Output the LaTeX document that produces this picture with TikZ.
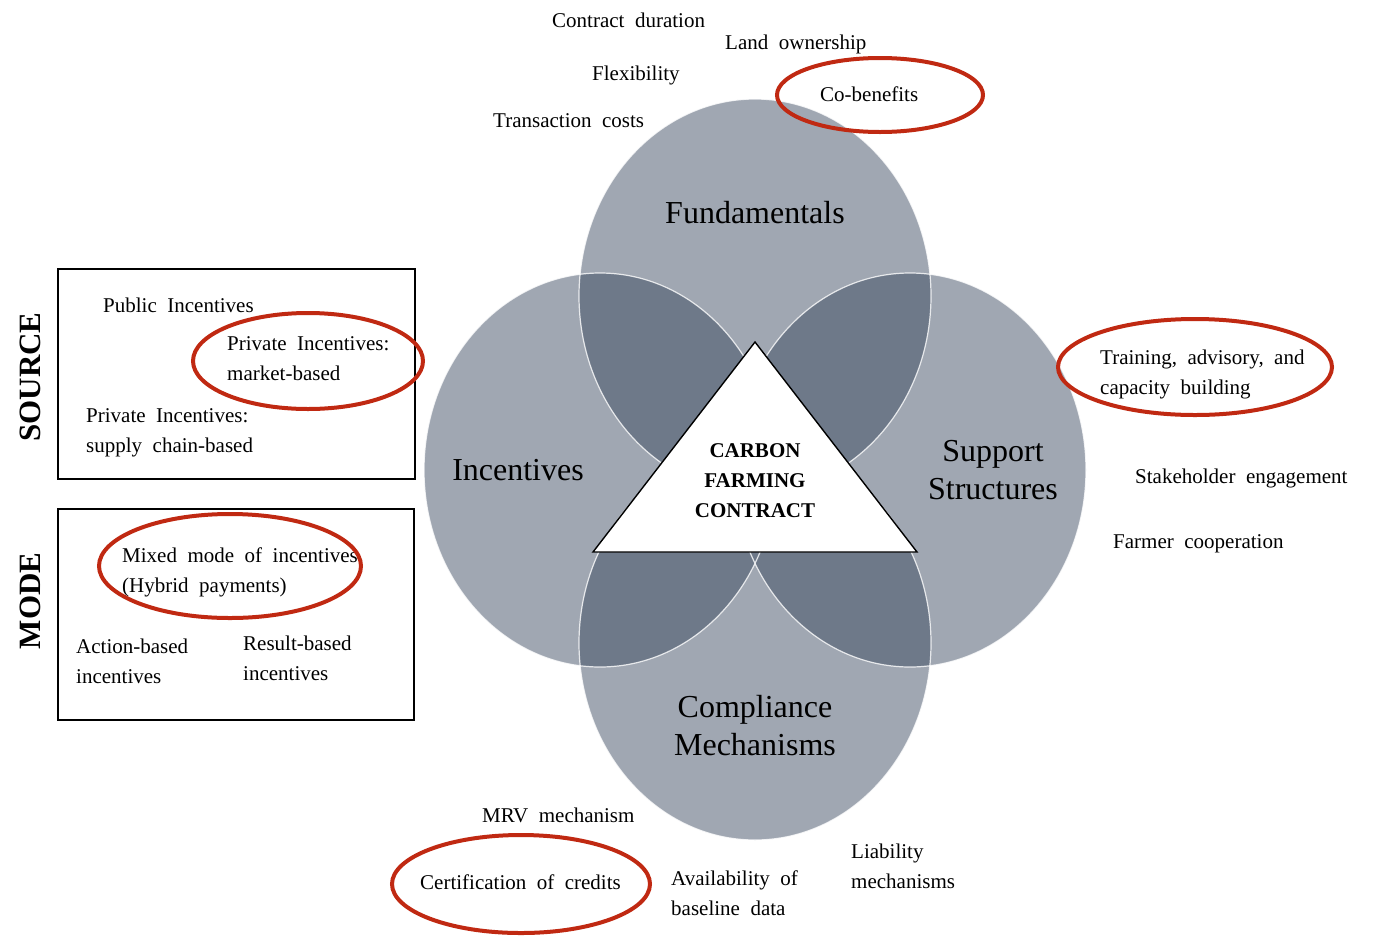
\documentclass[tikz,border=0pt]{standalone}
\usepackage{fontspec}
\setmainfont{Liberation Serif}[WordSpace=2]
\definecolor{lobegray}{RGB}{160,167,178}
\definecolor{lensgray}{RGB}{110,121,137}
\definecolor{ringred}{RGB}{192,41,18}
\begin{document}
\begin{tikzpicture}[x=1pt,y=-1pt,
    lobe/.style={fill=lobegray},
    lens/.style={fill=lensgray},
    rim/.style={draw=white,line width=1.2pt,opacity=0.8},
    lobe size/.style={x radius=176pt,y radius=197pt},
    ring/.style={draw=ringred,line width=4pt},
    frame/.style={draw=black,line width=1.4pt},
    item/.style={anchor=base west,inner sep=0pt,align=left,font={\fontsize{21}{30}\selectfont}},
    topic/.style={inner sep=0pt,align=center,font={\fontsize{32}{38}\selectfont}},
    heading/.style={inner sep=0pt,rotate=90,font={\bfseries\fontsize{31}{31}\selectfont}}]
  \useasboundingbox (0,0) rectangle (1373,935);
  \coordinate (ctop) at (755,296);
  \coordinate (cleft) at (600,470);
  \coordinate (cright) at (910,470);
  \coordinate (cbottom) at (755,643);
  \fill[lobe] (ctop) ellipse [lobe size];
  \fill[lobe] (cleft) ellipse [lobe size];
  \fill[lobe] (cright) ellipse [lobe size];
  \fill[lobe] (cbottom) ellipse [lobe size];
  \begin{scope}
    \clip (ctop) ellipse [lobe size];
    \fill[lens] (cleft) ellipse [lobe size];
    \fill[lens] (cright) ellipse [lobe size];
  \end{scope}
  \begin{scope}
    \clip (cbottom) ellipse [lobe size];
    \fill[lens] (cleft) ellipse [lobe size];
    \fill[lens] (cright) ellipse [lobe size];
  \end{scope}
  \draw[rim] (ctop) ellipse [lobe size];
  \draw[rim] (cleft) ellipse [lobe size];
  \draw[rim] (cright) ellipse [lobe size];
  \draw[rim] (cbottom) ellipse [lobe size];

  \coordinate (apex) at (755,342);
  \coordinate (lbase) at (593,552);
  \coordinate (rbase) at (917,552);
  \draw[frame,fill=white] (apex) -- (lbase) -- (rbase) -- cycle;
  \node[inner sep=0pt,align=center,font={\bfseries\fontsize{21}{30}\selectfont}] (contract) at (755,481) {CARBON\\FARMING\\CONTRACT};

  \node[topic] (fund) at (755,213) {Fundamentals};
  \node[topic] (inc) at (518,470) {Incentives};
  \node[topic] (supp) at (993,470) {Support\\Structures};
  \node[topic] (comp) at (755,726) {Compliance\\Mechanisms};

  \node[item] (duration) at (552,27) {Contract duration};
  \node[item] (land) at (725,49) {Land ownership};
  \node[item] (flex) at (592,80) {Flexibility};
  \node[item] (cobenefit) at (820,101) {Co-benefits};
  \node[item] (transact) at (493,127) {Transaction costs};

  \node[item] (training) at (1100,394) {Training, advisory, and\\capacity building};
  \node[item] (stake) at (1135,483) {Stakeholder engagement};
  \node[item] (coop) at (1113,548) {Farmer cooperation};

  \node[item] (mrv) at (482,822) {MRV mechanism};
  \node[item] (certif) at (420,889) {Certification of credits};
  \node[item] (baseline) at (671,915) {Availability of\\baseline data};
  \node[item] (liab) at (851,888) {Liability\\mechanisms};

  \draw[frame] (58,269) rectangle (415,479);
  \draw[frame] (58,509) rectangle (414,720);
  \node[heading] (source) at (30,377) {SOURCE};
  \node[heading] (mode) at (30,601) {MODE};
  \node[item] (public) at (103,312) {Public Incentives};
  \node[item] (market) at (227,380) {Private Incentives:\\market-based};
  \node[item] (supply) at (86,452) {Private Incentives:\\supply chain-based};
  \node[item] (mixed) at (122,592) {Mixed mode of incentives\\(Hybrid payments)};
  \node[item] (action) at (76,683) {Action-based\\incentives};
  \node[item] (result) at (243,680) {Result-based\\incentives};

  \draw[ring] (880,95) ellipse [x radius=103pt,y radius=37pt];
  \draw[ring] (1195,367) ellipse [x radius=137pt,y radius=48pt];
  \draw[ring] (308,361) ellipse [x radius=115pt,y radius=48pt];
  \draw[ring] (230,566) ellipse [x radius=131pt,y radius=52pt];
  \draw[ring] (521,884) ellipse [x radius=129pt,y radius=49pt];
\end{tikzpicture}
\end{document}
